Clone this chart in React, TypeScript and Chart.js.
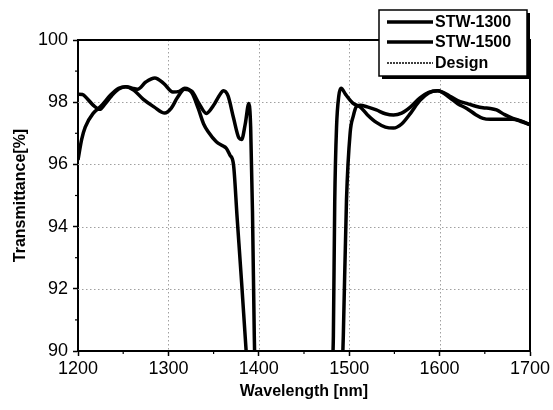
import React, { useEffect, useRef } from 'react';
import { Chart, registerables } from 'chart.js';

Chart.register(...registerables);

// ---- data ----
const stw1300WavelengthShort = [1200, 1205, 1210, 1217, 1224, 1230, 1237, 1245, 1253, 1262, 1272, 1284, 1296, 1303, 1310, 1318, 1326, 1334, 1342, 1350, 1356, 1361, 1366, 1372, 1378, 1381, 1385, 1389, 1391, 1393, 1395, 1396];
const stw1300TransShort = [98.26, 98.25, 98.12, 97.9, 97.77, 97.95, 98.2, 98.42, 98.5, 98.38, 98.1, 97.85, 97.65, 97.8, 98.15, 98.42, 98.35, 97.95, 97.64, 97.9, 98.2, 98.37, 98.2, 97.5, 96.85, 96.8, 97.3, 97.96, 97.2, 94.5, 90.5, 89];
const stw1300WavelengthLong = [1481.5, 1482.5, 1484, 1486, 1488.5, 1491, 1496, 1504, 1512, 1520, 1530, 1540, 1549, 1558, 1568, 1578, 1588, 1598, 1611, 1620, 1630, 1640, 1648, 1656, 1663, 1672, 1681, 1690, 1700];
const stw1300TransLong = [89.5, 90.5, 94.8, 97.2, 98.2, 98.45, 98.25, 97.97, 97.85, 97.6, 97.35, 97.2, 97.17, 97.3, 97.65, 98.05, 98.3, 98.37, 98.2, 98.05, 97.96, 97.87, 97.82, 97.8, 97.75, 97.6, 97.48, 97.4, 97.28];

const stw1500WavelengthShort = [1200, 1204, 1208, 1217, 1225, 1236, 1245, 1253, 1260, 1266, 1275, 1285, 1295, 1305, 1312, 1318, 1326, 1333, 1339, 1344, 1353, 1360, 1364, 1368, 1372, 1376, 1381, 1386, 1387];
const stw1500TransShort = [96.14, 96.8, 97.2, 97.65, 97.86, 98.23, 98.45, 98.5, 98.45, 98.42, 98.65, 98.78, 98.6, 98.33, 98.35, 98.45, 98.3, 97.8, 97.3, 97.05, 96.73, 96.6, 96.52, 96.3, 96.0, 94.3, 92.2, 90.0, 89.6];
const stw1500WavelengthLong = [1492.5, 1493.5, 1497, 1501, 1504.5, 1508, 1512, 1520, 1530, 1540, 1549, 1558, 1568, 1578, 1588, 1598, 1611, 1620, 1630, 1640, 1648, 1656, 1663, 1672, 1681, 1690, 1700];
const stw1500TransLong = [89.5, 90.5, 94.86, 97.0, 97.55, 97.86, 97.9, 97.85, 97.75, 97.63, 97.59, 97.65, 97.85, 98.13, 98.32, 98.37, 98.15, 97.95, 97.8, 97.6, 97.48, 97.45, 97.45, 97.45, 97.45, 97.38, 97.28];

const seriesLabels = ['STW-1300', 'STW-1500', 'Design'];
const xTickValues = [1200, 1300, 1400, 1500, 1600, 1700];
const yTickValues = [90, 92, 94, 96, 98, 100];

const FONT = '"Liberation Sans", Arial, sans-serif';

function toPoints(wlA: number[], tA: number[], wlB: number[], tB: number[]) {
  const pts: { x: number; y: number | null }[] = [];
  wlA.forEach((w, i) => pts.push({ x: w, y: tA[i] }));
  pts.push({ x: (wlA[wlA.length - 1] + wlB[0]) / 2, y: null });
  wlB.forEach((w, i) => pts.push({ x: w, y: tB[i] }));
  return pts;
}

const framePlugin = {
  id: 'frame',
  beforeDatasetsDraw(chart: any) {
    const { ctx, chartArea, scales } = chart;
    const { left, right, top, bottom } = chartArea;
    ctx.save();
    ctx.strokeStyle = '#a0a0a0';
    ctx.lineWidth = 1;
    ctx.setLineDash([1.5, 2.5]);
    xTickValues.slice(1, -1).forEach((v) => {
      const px = Math.round(scales.x.getPixelForValue(v)) + 0.5;
      ctx.beginPath();
      ctx.moveTo(px, top);
      ctx.lineTo(px, bottom);
      ctx.stroke();
    });
    yTickValues.slice(1, -1).forEach((v) => {
      const py = Math.round(scales.y.getPixelForValue(v)) + 0.5;
      ctx.beginPath();
      ctx.moveTo(left, py);
      ctx.lineTo(right, py);
      ctx.stroke();
    });
    ctx.restore();
  },
  afterDraw(chart: any) {
    const { ctx, chartArea, scales } = chart;
    const { left, right, top, bottom } = chartArea;
    ctx.save();
    ctx.setLineDash([]);
    ctx.strokeStyle = '#000';
    ctx.lineWidth = 2;
    ctx.beginPath();
    ctx.moveTo(left, top);
    ctx.lineTo(right, top);
    ctx.lineTo(right, bottom);
    ctx.stroke();
    // minor ticks
    ctx.lineWidth = 1.2;
    for (let i = 0; i < xTickValues.length - 1; i++) {
      const v = (xTickValues[i] + xTickValues[i + 1]) / 2;
      const px = scales.x.getPixelForValue(v);
      ctx.beginPath();
      ctx.moveTo(px, bottom);
      ctx.lineTo(px, bottom + 3);
      ctx.stroke();
    }
    for (let i = 0; i < yTickValues.length - 1; i++) {
      const v = (yTickValues[i] + yTickValues[i + 1]) / 2;
      const py = scales.y.getPixelForValue(v);
      ctx.beginPath();
      ctx.moveTo(left, py);
      ctx.lineTo(left - 3, py);
      ctx.stroke();
    }
    // legend box
    const bx = 379, by = 10, bw = 148, bh = 66;
    ctx.fillStyle = '#000';
    ctx.fillRect(bx + 3, by + 3, bw, bh);
    ctx.fillStyle = '#fff';
    ctx.fillRect(bx, by, bw, bh);
    ctx.strokeStyle = '#000';
    ctx.lineWidth = 1.5;
    ctx.strokeRect(bx, by, bw, bh);
    const rows = [22, 42, 63];
    chart.data.datasets.forEach((ds: any, i: number) => {
      const y = rows[i];
      ctx.strokeStyle = '#000';
      ctx.lineWidth = i < 2 ? 3.5 : 1.5;
      ctx.setLineDash(i < 2 ? [] : [2, 1]);
      ctx.beginPath();
      ctx.moveTo(387, y);
      ctx.lineTo(433, y);
      ctx.stroke();
      ctx.setLineDash([]);
      ctx.fillStyle = '#000';
      ctx.font = `bold 16px ${FONT}`;
      ctx.textBaseline = 'middle';
      ctx.textAlign = 'left';
      ctx.fillText(ds.label, 435, y + 1);
    });
    ctx.restore();
  },
};

export default function App() {
  const ref = useRef<HTMLCanvasElement | null>(null);
  useEffect(() => {
    if (!ref.current) return;
    const chart = new Chart(ref.current, {
      type: 'line',
      data: {
        datasets: [
          {
            label: seriesLabels[0],
            data: toPoints(stw1300WavelengthShort, stw1300TransShort, stw1300WavelengthLong, stw1300TransLong),
            borderColor: '#000',
            borderWidth: 3.5,
            pointRadius: 0,
            cubicInterpolationMode: 'monotone',
            spanGaps: false,
          },
          {
            label: seriesLabels[1],
            data: toPoints(stw1500WavelengthShort, stw1500TransShort, stw1500WavelengthLong, stw1500TransLong),
            borderColor: '#000',
            borderWidth: 3.5,
            pointRadius: 0,
            cubicInterpolationMode: 'monotone',
            spanGaps: false,
          },
          {
            label: seriesLabels[2],
            data: [],
            borderColor: '#000',
            borderWidth: 1.5,
            borderDash: [2, 1],
            pointRadius: 0,
          },
        ],
      },
      options: {
        responsive: false,
        animation: false,
        layout: { padding: { top: 40, right: 23, left: 0, bottom: 0 } },
        plugins: { legend: { display: false }, tooltip: { enabled: false } },
        scales: {
          x: {
            type: 'linear',
            min: 1200,
            max: 1700,
            afterFit: (s: any) => { s.height = 59; },
            afterBuildTicks: (s: any) => { s.ticks = xTickValues.map((v) => ({ value: v })); },
            ticks: { color: '#000', font: { family: FONT, size: 18 }, padding: 2, maxRotation: 0, callback: (v: any) => String(v) },
            grid: { drawOnChartArea: false, drawTicks: true, tickLength: 5, tickColor: '#000', tickWidth: 1.5 },
            border: { display: true, color: '#000', width: 2 },
            title: { display: true, text: 'Wavelength [nm]', color: '#000', font: { family: FONT, size: 16, weight: 'bold' }, padding: { top: 0, bottom: 9 } },
          },
          y: {
            type: 'linear',
            min: 90,
            max: 100,
            afterFit: (s: any) => { s.width = 78; },
            afterBuildTicks: (s: any) => { s.ticks = yTickValues.map((v) => ({ value: v })); },
            ticks: { color: '#000', font: { family: FONT, size: 18 }, padding: 5, callback: (v: any) => String(v) },
            grid: { drawOnChartArea: false, drawTicks: true, tickLength: 5, tickColor: '#000', tickWidth: 1.5 },
            border: { display: true, color: '#000', width: 2 },
            title: { display: true, text: 'Transmittance[%]', color: '#000', font: { family: FONT, size: 16, weight: 'bold' }, padding: { top: 11, bottom: 0 } },
          },
        },
      },
      plugins: [framePlugin],
    } as any);
    return () => chart.destroy();
  }, []);
  return (
    <div style={{ position: 'absolute', left: 0, top: 0, width: 553, height: 410, background: '#fff' }}>
      <canvas ref={ref} width={553} height={410} />
    </div>
  );
}
